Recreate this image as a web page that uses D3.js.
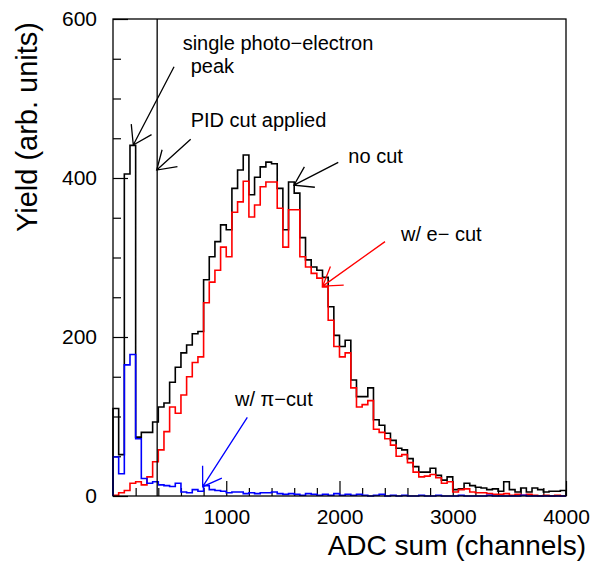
<!DOCTYPE html>
<html>
<head>
<meta charset="utf-8">
<script src="https://cdn.jsdelivr.net/npm/d3@7"></script>
<style>
body{margin:0;background:#fff;}
text{font-family:"Liberation Sans",Arial,Helvetica,sans-serif;fill:#000;}
</style>
</head>
<body>
<svg id="chart" width="595" height="561"></svg>
<script>
// histogram, 50 channels per bin, starting at 0
var binWidth = 50;

var noCut = [110,52,405,441,74,80,80,93,112,117,
	143,162,180,190,204,207,272,301,320,341,
	335,387,410,429,379,401,414,420,418,387,
	335,395,381,325,297,288,284,275,238,202,
	188,196,146,125,125,136,96,89,79,70,
	60,58,47,37,30,30,35,26,20,24,
	8,9,16,13,11,10,8,9,6,18,
	8,5,10,5,10,8,5,6,6,7];

var eCut = [1,4,7,16,18,14,24,43,58,81,
	112,104,127,150,168,175,243,269,284,313,
	301,357,370,396,351,366,389,395,395,362,
	313,360,360,301,288,280,274,263,221,188,
	175,180,136,112,115,120,84,80,72,64,
	50,52,42,30,24,25,27,23,16,18,
	5,8,9,5,4,4,3,2,2,3,
	1,2,1,2,1,0,1,0,1,0];

var piCut = [49,28,165,178,72,22,16,18,14,13,
	12,16,5,4,8,6,13,8,7,6,
	4,5,5,3,4,3,4,4,5,3,
	2,3,2,1,3,2,1,2,1,3,
	1,2,1,2,1,0,1,2,0,1,
	0,1,0,0,1,0,0,1,0,0,
	0,1,0,0,0,0,1,0,0,0,
	0,0,1,0,0,0,0,0,0,0];

var xMajor = [1000,2000,3000,4000];
var yMajor = [0,200,400,600];
var pidCut = 390;

// arrows in data coords (channel, yield)
var arrows = [
	{from:[539,540], to:[179,441.5], color:'#000'},
	{from:[686,448.7], to:[386,410], color:'#000'},
	{from:[1989,419.7], to:[1598,391], color:'#000'},
	{from:[2402,320], to:[1852,264], color:'#f00'},
	{from:[1186,99], to:[792,11.7], color:'#00f'}
];

var notes = [
	{text:'single photo\u2212electron', at:[615,561]},
	{text:'peak', at:[686,532.5]},
	{text:'PID cut applied', at:[686,464.5]},
	{text:'no cut', at:[2078,418.5]},
	{text:'w/ e\u2212 cut', at:[2543,320.8]},
	{text:'w/ \u03c0\u2212cut', at:[1077,113]}
];

var svg = d3.select('#chart');
var margin = {top:19,right:29,bottom:65,left:113};
var width = 595-margin.left-margin.right,
	height = 561-margin.top-margin.bottom;

var x = d3.scaleLinear().domain([0,4000]).range([0,width]);
var y = d3.scaleLinear().domain([0,600]).range([height,0]);

var g = svg.append('g').attr('transform','translate('+margin.left+','+margin.top+')');

// ticks (inside the frame)
var xMinor = d3.range(0,4001,200).filter(function(v){return v%1000!==0;});
var yMinor = d3.range(0,601,50).filter(function(v){return v%200!==0;});

g.append('g').attr('transform','translate(0,'+height+')')
	.call(d3.axisBottom(x).tickValues(xMinor).tickSize(-8).tickFormat(''));
g.append('g').attr('transform','translate(0,'+height+')')
	.call(d3.axisBottom(x).tickValues(xMajor).tickSize(-15).tickPadding(13).tickFormat(d3.format('d')));
g.append('g')
	.call(d3.axisLeft(y).tickValues(yMinor).tickSize(-8).tickFormat(''));
g.append('g')
	.call(d3.axisLeft(y).tickValues(yMajor).tickSize(-15).tickPadding(16).tickFormat(d3.format('d')));

g.selectAll('.domain').remove();
g.selectAll('.tick line').attr('stroke','#000').attr('stroke-width',1.2);
g.selectAll('.tick text').style('font-size','21px').attr('fill','#000');

// histograms
var line = d3.line()
	.x(function(d){return x(d[0]);})
	.y(function(d){return y(d[1]);})
	.curve(d3.curveStepAfter);

function histPoints(vals){
	var p = [[0,0]];
	vals.forEach(function(v,i){ p.push([i*binWidth,v]); });
	p.push([vals.length*binWidth, vals[vals.length-1]]);
	p.push([vals.length*binWidth, 0]);
	return p;
}

[[noCut,'#000'],[eCut,'#f00'],[piCut,'#00f']].forEach(function(h){
	g.append('path')
		.attr('d',line(histPoints(h[0])))
		.attr('fill','none')
		.attr('stroke',h[1])
		.attr('stroke-width',1.6);
});

// PID cut line
g.append('line')
	.attr('x1',x(pidCut)).attr('x2',x(pidCut))
	.attr('y1',y(0)).attr('y2',y(600))
	.attr('stroke','#000').attr('stroke-width',1.3);

// frame
g.append('rect')
	.attr('width',width).attr('height',height)
	.attr('fill','none').attr('stroke','#000').attr('stroke-width',1.3);

// arrows
arrows.forEach(function(a){
	var sx = x(a.from[0]), sy = y(a.from[1]);
	var tx = x(a.to[0]), ty = y(a.to[1]);
	var ang = Math.atan2(sy-ty, sx-tx);
	var hl = 21, spread = 33*Math.PI/180;
	var d = 'M'+sx+','+sy+'L'+tx+','+ty
		+'M'+(tx+hl*Math.cos(ang-spread))+','+(ty+hl*Math.sin(ang-spread))
		+'L'+tx+','+ty
		+'L'+(tx+hl*Math.cos(ang+spread))+','+(ty+hl*Math.sin(ang+spread));
	g.append('path').attr('d',d).attr('fill','none')
		.attr('stroke',a.color).attr('stroke-width',1.3);
});

notes.forEach(function(n){
	g.append('text')
		.attr('x',x(n.at[0])).attr('y',y(n.at[1]))
		.style('font-size','20px')
		.text(n.text);
});

// axis titles
svg.append('text')
	.attr('x',586).attr('y',554.5)
	.attr('text-anchor','end')
	.style('font-size','28px')
	.text('ADC sum (channels)');

svg.append('text')
	.attr('transform','translate(37,22) rotate(-90)')
	.attr('text-anchor','end')
	.style('font-size','29px')
	.text('Yield (arb. units)');
</script>
</body>
</html>
